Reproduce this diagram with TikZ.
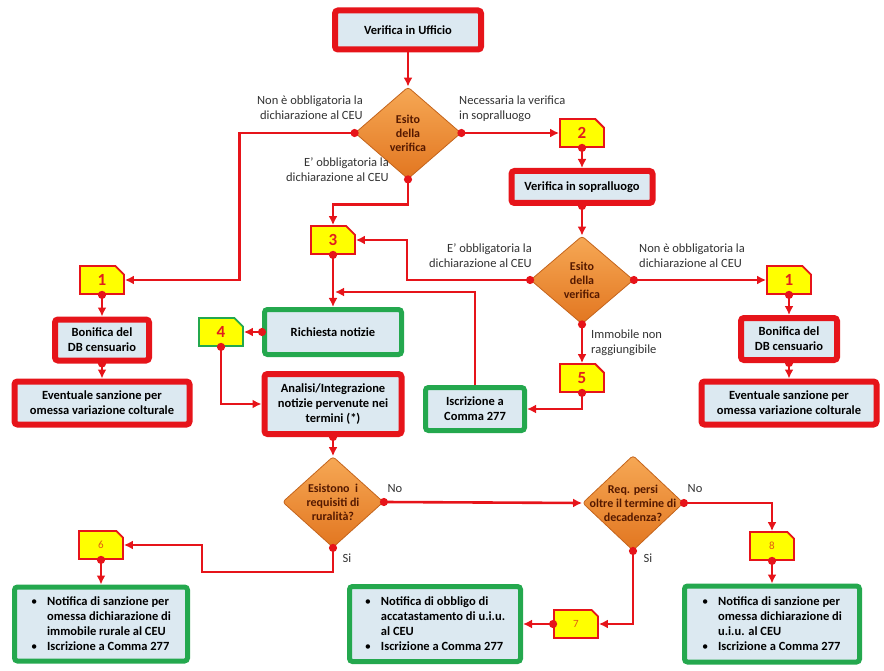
\documentclass[tikz,border=0pt]{standalone}
\usepackage{fontspec}
\setmainfont{Carlito}
\usetikzlibrary{shapes.geometric,shapes.misc,arrows.meta}
\definecolor{linea}{RGB}{230,20,26}
\definecolor{celeste}{RGB}{220,233,241}
\definecolor{verde}{RGB}{36,168,78}
\definecolor{giallo}{RGB}{255,255,0}
\definecolor{arancio1}{RGB}{246,168,85}
\definecolor{arancio2}{RGB}{226,118,32}
\definecolor{bordoar}{RGB}{196,100,28}
\definecolor{testoar}{RGB}{85,25,0}
\definecolor{grigio}{RGB}{50,50,50}
\definecolor{numrosso}{RGB}{225,30,30}
\definecolor{numarancio}{RGB}{225,90,20}
\newcommand{\blt}{\makebox[16pt][l]{\textnormal{\textbullet}}}
\newcommand{\ind}{\hspace*{16pt}}
\begin{document}
\begin{tikzpicture}[x=1pt,y=-1pt,
 box/.style={draw=linea, line width=6pt, fill=celeste, rounded corners=3pt, align=center, inner sep=0pt, font=\fontsize{12.5}{15}\selectfont\bfseries},
 gbox/.style={box, draw=verde, line width=5pt},
 rombo/.style={diamond, draw=bordoar, line width=0.8pt, top color=arancio1, bottom color=arancio2, rounded corners=3pt, inner sep=-7pt, align=center, text=testoar, font=\fontsize{12}{14}\selectfont\bfseries},
 nota/.style={chamfered rectangle, chamfered rectangle corners=north east, chamfered rectangle xsep=6pt, draw=linea, line width=1.8pt, fill=giallo, minimum width=44pt, minimum height=28pt, inner sep=0pt, text=numrosso, font=\fontsize{17}{17}\selectfont\bfseries},
 notab/.style={nota, text=numarancio, font=\fontsize{11}{11}\selectfont},
 lbl/.style={text=grigio, inner sep=0pt, font=\fontsize{12.5}{15}\selectfont},
 freccia/.style={draw=linea, line width=2.6pt, -{Latex[length=9pt,width=9pt]}},
 dfreccia/.style={freccia, {Circle[length=8pt]}-{Latex[length=9pt,width=9pt]}, shorten <=-4pt}]
\useasboundingbox (0,0) rectangle (884,671);
\node[box, minimum width=146pt, minimum height=39pt] (uff) at (408,30) {Verifica in Ufficio};
\node[rombo, minimum width=106pt, minimum height=92pt] (es1) at (408,133) {Esito\\della\\verifica};
\node[nota] (n2) at (582,133) {2};
\node[box, minimum width=141pt, minimum height=32pt] (vsop) at (582,187) {Verifica in sopralluogo};
\node[rombo, minimum width=103pt, minimum height=88pt] (es2) at (582,280) {Esito\\della\\verifica};
\node[nota] (n3) at (333,240) {3};
\node[nota] (n1a) at (102,280) {1};
\node[nota] (n1b) at (789,280) {1};
\node[box, minimum width=94pt, minimum height=41pt] (bon1) at (102,340) {Bonifica del\\DB censuario};
\node[box, minimum width=175pt, minimum height=43pt] (ev1) at (102,403) {Eventuale sanzione per\\omessa variazione colturale};
\node[box, minimum width=96pt, minimum height=42pt] (bon2) at (789,339) {Bonifica del\\DB censuario};
\node[box, minimum width=175pt, minimum height=43pt] (ev2) at (789,403) {Eventuale sanzione per\\omessa variazione colturale};
\node[nota, draw=verde] (n4) at (221,332) {4};
\node[gbox, minimum width=137pt, minimum height=45pt] (rich) at (333,332) {Richiesta notizie};
\node[box, minimum width=137pt, minimum height=60pt] (anal) at (333,404) {Analisi/Integrazione\\notizie pervenute nei\\termini (*)};
\node[nota] (n5) at (582,378) {5};
\node[gbox, minimum width=99pt, minimum height=43pt] (iscr) at (475,409) {Iscrizione a\\Comma 277};
\node[rombo, minimum width=101pt, minimum height=91pt] (es3) at (333,502) {Esistono~ i\\requisiti di\\ruralità?};
\node[rombo, minimum width=101pt, minimum height=93pt] (es4) at (633,503) {Req. persi\\oltre il termine di\\decadenza?};
\node[notab] (n6) at (101,545) {6};
\node[notab] (n7) at (576,624) {7};
\node[notab] (n8) at (772,546) {8};
\node[gbox, align=left, minimum width=173pt, minimum height=74pt] (b6) at (101,624) {\blt Notifica di sanzione per\\\ind omessa dichiarazione di\\\ind immobile rurale al CEU\\\blt Iscrizione a Comma 277};
\node[gbox, align=left, minimum width=171pt, minimum height=75pt] (b7) at (435,624) {\blt Notifica di obbligo di\\\ind accatastamento di u.i.u.\\\ind al CEU\\\blt Iscrizione a Comma 277};
\node[gbox, align=left, minimum width=175pt, minimum height=76pt] (b8) at (772,624) {\blt Notifica di sanzione per\\\ind omessa dichiarazione di\\\ind u.i.u. al CEU\\\blt Iscrizione a Comma 277};
\node[lbl, align=right, anchor=east] (l1) at (363,108) {Non è obbligatoria la\\dichiarazione al CEU};
\node[lbl, align=left, anchor=west] (l2) at (459,109) {Necessaria la verifica\\in sopralluogo};
\node[lbl, align=right, anchor=east] (l3) at (389,170) {E' obbligatoria la\\dichiarazione al CEU};
\node[lbl, align=right, anchor=east] (l4) at (532,256) {E' obbligatoria la\\dichiarazione al CEU};
\node[lbl, align=left, anchor=west] (l5) at (639,256) {Non è obbligatoria la\\dichiarazione al CEU};
\node[lbl, align=left, anchor=west] (l6) at (591,343) {Immobile non\\raggiungibile};
\node[lbl] (no1) at (395,489) {No};
\node[lbl] (si1) at (347,558) {Si};
\node[lbl] (no2) at (695,489) {No};
\node[lbl] (si2) at (648,558) {Si};
\coordinate (innesto) at (335,292);
\draw[freccia] (uff.south) -- (es1.north);
\draw[dfreccia] (es1.west) -- ++(-115,0) |- (n1a.east);
\draw[dfreccia] (es1.east) -- (n2.west);
\draw[dfreccia] (es1.south) -- ++(0,25) -| (n3.north);
\draw[dfreccia] (n2.south) -- (vsop.north);
\draw[dfreccia] (vsop.south) -- (es2.north);
\draw[dfreccia] (es2.west) -- ++(-123,0) |- (n3.east);
\draw[dfreccia] (es2.east) -- (n1b.west);
\draw[dfreccia] (es2.south) -- (n5.north);
\draw[dfreccia] (n5.south) |- (iscr.east);
\draw[freccia] (iscr.north) |- (innesto);
\draw[dfreccia] (n3.south) -- (rich.north);
\draw[dfreccia] (rich.west) -- (n4.east);
\draw[dfreccia] (n4.south) |- (anal.west);
\draw[dfreccia] (anal.south) -- (es3.north);
\draw[dfreccia] (n1a.south) -- (bon1.north);
\draw[dfreccia] (bon1.south) -- (ev1.north);
\draw[dfreccia] (n1b.south) -- (bon2.north);
\draw[dfreccia] (bon2.south) -- (ev2.north);
\draw[dfreccia] (es3.east) -- (es4.west);
\draw[dfreccia] (es3.south) |- (202,572) |- (n6.east);
\draw[dfreccia] (es4.east) -| (n8.north);
\draw[dfreccia] (es4.south) |- (n7.east);
\draw[dfreccia] (n6.south) -- (b6.north);
\draw[dfreccia] (n7.west) -- (b7.east);
\draw[dfreccia] (n8.south) -- (b8.north);
\end{tikzpicture}
\end{document}
